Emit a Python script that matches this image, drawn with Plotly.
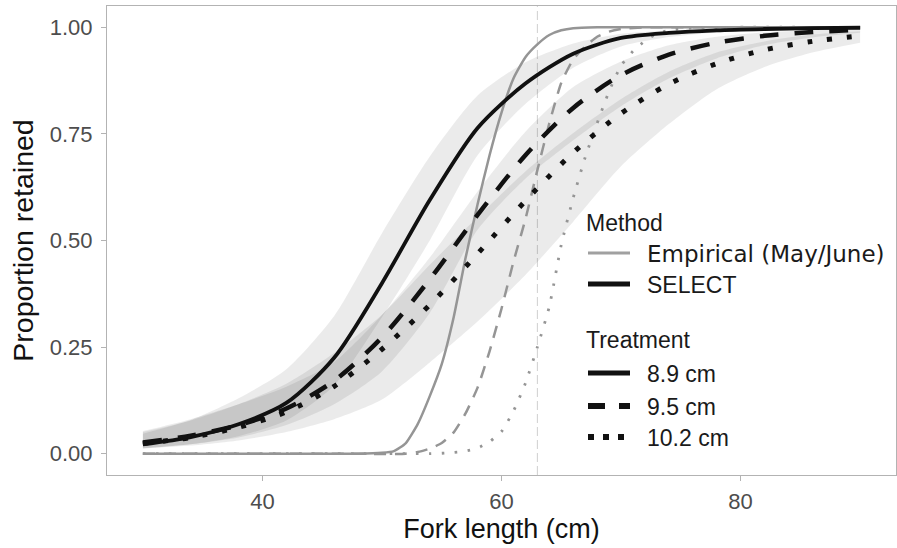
import plotly.graph_objects as go

# ---------------- data ----------------
SEL_X = [30, 34, 38, 42, 46, 50, 54, 58, 62, 66, 70, 74, 78, 82, 86, 90]

SEL_89 = [0.022, 0.039, 0.069, 0.119, 0.225, 0.400, 0.595, 0.764, 0.868, 0.938, 0.975, 0.987, 0.993, 0.996, 0.998, 0.999]
SEL_89_LO = [0.012, 0.022, 0.041, 0.078, 0.160, 0.320, 0.500, 0.700, 0.820, 0.905, 0.955, 0.977, 0.988, 0.993, 0.996, 0.998]
SEL_89_HI = [0.047, 0.079, 0.130, 0.198, 0.323, 0.517, 0.697, 0.840, 0.918, 0.962, 0.985, 0.992, 0.996, 0.998, 0.999, 0.999]

SEL_95 = [0.026, 0.042, 0.067, 0.106, 0.171, 0.273, 0.409, 0.560, 0.700, 0.811, 0.888, 0.936, 0.964, 0.980, 0.989, 0.994]
SEL_95_LO = [0.013, 0.022, 0.038, 0.067, 0.116, 0.193, 0.330, 0.525, 0.645, 0.735, 0.815, 0.880, 0.927, 0.958, 0.976, 0.987]
SEL_95_HI = [0.053, 0.081, 0.116, 0.157, 0.215, 0.325, 0.460, 0.615, 0.755, 0.860, 0.920, 0.958, 0.978, 0.988, 0.994, 0.997]

SEL_102 = [0.024, 0.038, 0.062, 0.098, 0.158, 0.245, 0.349, 0.469, 0.593, 0.706, 0.798, 0.867, 0.915, 0.947, 0.967, 0.980]
SEL_102_LO = [0.012, 0.019, 0.031, 0.051, 0.081, 0.127, 0.214, 0.310, 0.419, 0.544, 0.674, 0.773, 0.855, 0.907, 0.941, 0.964]
SEL_102_HI = [0.051, 0.078, 0.116, 0.164, 0.236, 0.326, 0.443, 0.555, 0.662, 0.752, 0.832, 0.896, 0.941, 0.967, 0.983, 0.991]

EMP_89_X = [30, 40, 48, 50, 51, 52, 53, 54, 55, 56, 57, 58, 59, 60, 61, 62, 63, 64, 65, 66, 68, 75, 90]
EMP_89_Y = [0, 0, 0, 0.002, 0.006, 0.025, 0.07, 0.135, 0.21, 0.32, 0.46, 0.585, 0.70, 0.80, 0.88, 0.93, 0.96, 0.982, 0.993, 0.998, 1, 1, 1]

EMP_95_X = [30, 45, 52, 53, 54, 55, 56, 57, 58, 59, 60, 61, 62, 63, 64, 65, 66, 67, 68, 69, 70, 72, 80, 90]
EMP_95_Y = [0, 0, 0, 0.004, 0.012, 0.025, 0.05, 0.095, 0.155, 0.24, 0.34, 0.45, 0.55, 0.665, 0.775, 0.87, 0.925, 0.955, 0.978, 0.99, 0.996, 1, 1, 1]

EMP_102_X = [30, 50, 54, 55, 56, 57, 58, 59, 60, 61, 62, 63, 64, 65, 66, 67, 68, 69, 70, 71, 72, 73, 74, 76, 78, 90]
EMP_102_Y = [0, 0, 0, 0.001, 0.003, 0.006, 0.013, 0.028, 0.052, 0.10, 0.165, 0.25, 0.345, 0.49, 0.60, 0.695, 0.775, 0.85, 0.91, 0.944, 0.968, 0.985, 0.993, 0.999, 1, 1]

CUTOFF = 63
X_TICKS = [40, 60, 80]
Y_TICKS = [0, 0.25, 0.5, 0.75, 1.0]
Y_TICK_LABELS = ["0.00", "0.25", "0.50", "0.75", "1.00"]

METHOD_TITLE = "Method"
TREAT_TITLE = "Treatment"
METHOD_LABELS = ["Empirical (May/June)", "SELECT"]
TREAT_LABELS = ["8.9 cm", "9.5 cm", "10.2 cm"]

# ---------------- styles ----------------
RIBBON = "rgba(0,0,0,0.08)"
GREY = "#959595"
BLACK = "#111111"
FONT = "Liberation Sans, Arial, sans-serif"

PX_L, PX_R, PX_T, PX_B = 107, 896, 6, 475
W, H = 897, 548


def pxx(p):
    return (p - PX_L) / (PX_R - PX_L)


def pxy(p):
    return (PX_B - p) / (PX_B - PX_T)


fig = go.Figure()

# ribbons
for lo, hi in [(SEL_89_LO, SEL_89_HI), (SEL_95_LO, SEL_95_HI), (SEL_102_LO, SEL_102_HI)]:
    fig.add_trace(go.Scatter(x=SEL_X, y=lo, mode="lines", line=dict(width=0, shape="spline", smoothing=0.7),
                             showlegend=False, hoverinfo="skip"))
    fig.add_trace(go.Scatter(x=SEL_X, y=hi, mode="lines", fill="tonexty", fillcolor=RIBBON,
                             line=dict(width=0, shape="spline", smoothing=0.7),
                             showlegend=False, hoverinfo="skip"))

# empirical curves (grey)
for xs, ys, dash, w in [(EMP_89_X, EMP_89_Y, "solid", 2.5),
                        (EMP_95_X, EMP_95_Y, "12px,9px", 2.5),
                        (EMP_102_X, EMP_102_Y, "2.5px,10.5px", 2.8)]:
    fig.add_trace(go.Scatter(x=xs, y=ys, mode="lines",
                             line=dict(color=GREY, width=w, dash=dash, shape="spline", smoothing=0.5),
                             showlegend=False))

# SELECT curves (black)
for ys, dash, w in [(SEL_89, "solid", 3.8), (SEL_95, "19px,16px", 4.5), (SEL_102, "5px,15px", 5)]:
    fig.add_trace(go.Scatter(x=SEL_X, y=ys, mode="lines",
                             line=dict(color=BLACK, width=w, dash=dash, shape="spline", smoothing=0.8),
                             showlegend=False))

fig.update_layout(
    width=W, height=H,
    margin=dict(l=PX_L, r=W - PX_R, t=PX_T, b=H - PX_B),
    paper_bgcolor="white", plot_bgcolor="white",
    showlegend=False,
    font=dict(family=FONT),
)

fig.add_vline(x=CUTOFF, line=dict(color="#cfcfcf", width=1, dash="9px,4px"), layer="below")

# ---------------- manual legend ----------------
LX0, LX1, LTX = 588, 630, 645
for title, yy in [(METHOD_TITLE, 223), (TREAT_TITLE, 340)]:
    fig.add_annotation(text=title, x=pxx(584), y=pxy(yy), xref="paper", yref="paper",
                       xanchor="left", yanchor="middle", showarrow=False,
                       font=dict(family=FONT, size=23, color="#1a1a1a"))

leg_items = [
    (METHOD_LABELS[0], 253, "#a0a0a0", "solid", 3, "DejaVu Sans, sans-serif", 23),
    (METHOD_LABELS[1], 284, BLACK, "solid", 5, FONT, 23),
    (TREAT_LABELS[0], 373, BLACK, "solid", 5, FONT, 23),
    (TREAT_LABELS[1], 406, BLACK, "17px,14px", 6, FONT, 23),
    (TREAT_LABELS[2], 437, BLACK, "6px,9px", 6, FONT, 23),
]
for label, yy, col, dash, w, fam, fs in leg_items:
    fig.add_shape(type="line", xref="paper", yref="paper",
                  x0=pxx(LX0), x1=pxx(LX1), y0=pxy(yy), y1=pxy(yy),
                  line=dict(color=col, width=w, dash=dash))
    fig.add_annotation(text=label, x=pxx(LTX), y=pxy(yy + 1), xref="paper", yref="paper",
                       xanchor="left", yanchor="middle", showarrow=False,
                       font=dict(family=fam, size=fs, color="#1a1a1a"))

fig.update_xaxes(range=[27, 93], tickvals=X_TICKS, ticks="outside", ticklen=5, tickcolor="#b3b3b3",
                 showline=True, mirror=True, linecolor="#b3b3b3", linewidth=1, showgrid=False, zeroline=False,
                 tickfont=dict(family=FONT, size=22, color="#4d4d4d"), ticklabelstandoff=2,
                 title=dict(text="Fork length (cm)", font=dict(family=FONT, size=27, color="#111111"), standoff=3))
fig.update_yaxes(range=[-0.05, 1.05], tickvals=Y_TICKS, ticktext=Y_TICK_LABELS, ticks="outside", ticklen=5,
                 tickcolor="#b3b3b3", showline=True, mirror=True, linecolor="#b3b3b3", linewidth=1,
                 showgrid=False, zeroline=False,
                 tickfont=dict(family=FONT, size=22, color="#4d4d4d"), ticklabelstandoff=4,
                 title=dict(text="Proportion retained", font=dict(family=FONT, size=28.5, color="#111111"), standoff=7))

fig.write_html("out.html")
